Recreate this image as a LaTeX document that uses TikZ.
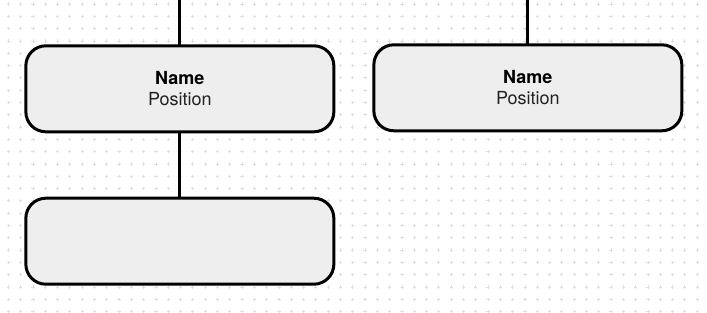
\documentclass[tikz,border=0pt]{standalone}
\usepackage{fontspec}
\setmainfont{TeX Gyre Heros}
\usetikzlibrary{positioning}
\definecolor{boxgray}{RGB}{238,238,238}
\definecolor{dotgray}{RGB}{222,222,230}
\definecolor{textgray}{RGB}{34,34,34}

\begin{document}
\begin{tikzpicture}[x=0.75pt,y=0.75pt,
    card/.style={draw=black,line width=2.25pt,fill=boxgray,rounded corners=15pt,
      minimum width=231pt,minimum height=64.5pt,outer sep=0pt,inner sep=0pt,
      align=center,font=\fontsize{13.5}{16}\selectfont},
    link/.style={line width=2.25pt}]
  \useasboundingbox (0,0) rectangle (707,312);
  \foreach \i in {0,...,57}{
    \foreach \j in {0,...,25}{
      \draw[dotgray,line width=0.5pt] (8.3+12.3*\i-1.6,308-12.3*\j) -- ++(3.2,0)
        (8.3+12.3*\i,308-12.3*\j-1.6) -- ++(0,3.2);
    }
  }
  \node[card] (boss) at (179.85,223.2) {\textbf{Name}\\{\color{textgray}Position}};
  \node[card,right=30pt of boss.east,anchor=west,yshift=0.75pt] (peer) {\textbf{Name}\\{\color{textgray}Position}};
  \node[card,below=49.8pt of boss.south,anchor=north] (staff) {};
  \coordinate (bosstop) at (boss.north |- 0,312);
  \coordinate (peertop) at (peer.north |- 0,312);
  \draw[link] (bosstop) -- (boss.north);
  \draw[link] (peertop) -- (peer.north);
  \draw[link] (boss.south) -- (staff.north);
\end{tikzpicture}
\end{document}
